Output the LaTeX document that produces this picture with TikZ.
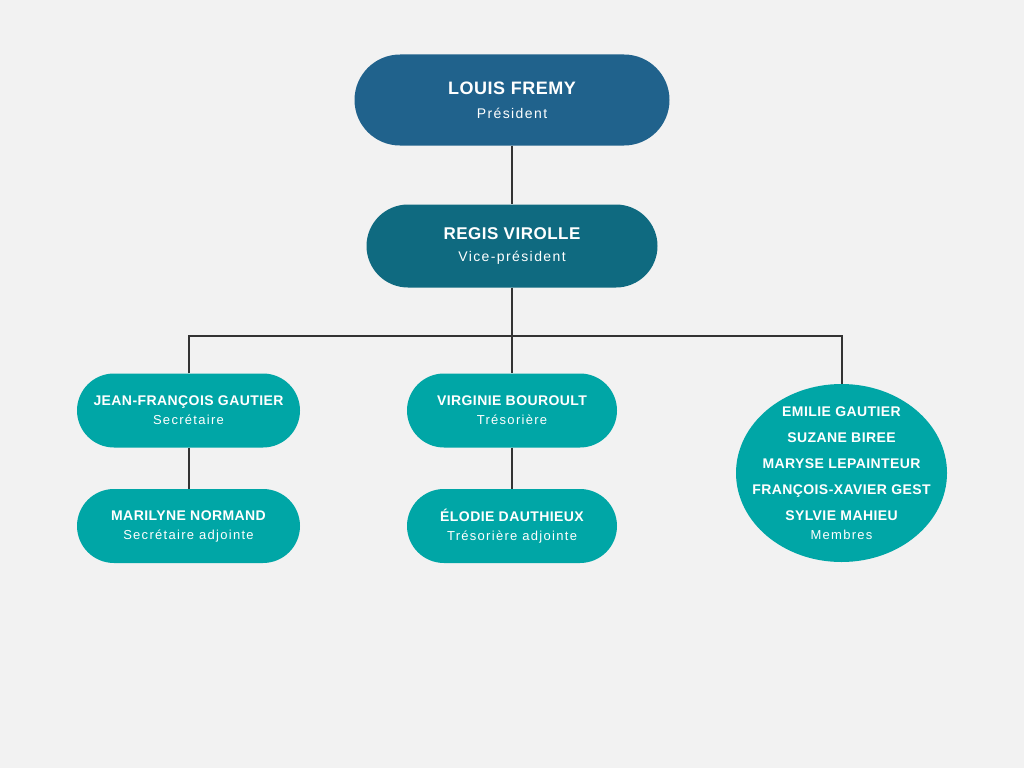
\documentclass[tikz,border=0pt]{standalone}
\usepackage{fontspec}
\setmainfont{Liberation Sans}
\newfontfamily\namefont{Liberation Sans}[LetterSpace=3]
\newfontfamily\rolefont{Liberation Sans}[LetterSpace=10]
\usepackage{tikz}
\usetikzlibrary{shapes.geometric}
\definecolor{pagegrey}{HTML}{F2F2F2}
\definecolor{presblue}{HTML}{20628C}
\definecolor{vpblue}{HTML}{0F6A80}
\definecolor{teamteal}{HTML}{00A6A6}
\definecolor{linkgrey}{HTML}{333333}

\begin{document}
\begin{tikzpicture}[x=1pt,y=-1pt,
  every node/.append style={text=white, align=center, inner sep=0pt},
  pill/.style={rectangle, rounded corners=#1, minimum height=2*#1},
  lead/.style={pill=45.5pt, fill=presblue, minimum width=315pt,
    font=\fontsize{18}{24}\selectfont},
  deputy/.style={pill=41.5pt, fill=vpblue, minimum width=291pt,
    font=\fontsize{17}{22}\selectfont},
  officer/.style={pill=37pt, fill=teamteal, font=\fontsize{14}{19}\selectfont},
  members/.style={ellipse, fill=teamteal, minimum width=211pt, minimum height=178pt},
  memberlist/.style={font=\fontsize{14}{26}\selectfont},
  link/.style={draw=linkgrey, line width=2pt}]
\fill[pagegrey] (0,0) rectangle (1024,768);
\node[lead] (pres) at (512,100)
  {\namefont\bfseries LOUIS FREMY\\
   \rolefont\fontsize{14}{24}\selectfont Président};
\node[deputy] (vp) at (512,246)
  {\namefont\bfseries REGIS VIROLLE\\
   \rolefont\fontsize{14}{22}\selectfont Vice-président};
\node[officer, minimum width=223pt] (secr) at (188.5,410.5)
  {\namefont\bfseries JEAN-FRANÇOIS GAUTIER\\
   \rolefont\fontsize{13}{19}\selectfont Secrétaire};
\node[officer, minimum width=210pt] (tres) at (512,410.5)
  {\namefont\bfseries VIRGINIE BOUROULT\\
   \rolefont\fontsize{13}{19}\selectfont Trésorière};
\node[officer, minimum width=223pt] (secradj) at (188.5,526)
  {\namefont\bfseries MARILYNE NORMAND\\
   \rolefont\fontsize{13}{19}\selectfont Secrétaire adjointe};
\node[officer, minimum width=210pt] (tresadj) at (512,526)
  {\namefont\bfseries ÉLODIE DAUTHIEUX\\
   \rolefont\fontsize{13}{19}\selectfont Trésorière adjointe};
\node[members, label={[memberlist, name=membtext]center:{%
   \namefont\bfseries EMILIE GAUTIER\\
   \namefont\bfseries SUZANE BIREE\\
   \namefont\bfseries MARYSE LEPAINTEUR\\
   \namefont\bfseries FRANÇOIS-XAVIER GEST\\
   \namefont\bfseries SYLVIE MAHIEU\\[-7pt]
   \rolefont\fontsize{13}{19}\selectfont Membres}}] (memb) at (841.5,473) {};
% connectors
\coordinate (bus) at (512,336);
\draw[link] (pres) -- (vp);
\draw[link] (vp) -- (bus);
\draw[link] (secr.north) |- (bus) -| (memb.north);
\draw[link] (bus) -- (tres);
\draw[link] (secr) -- (secradj);
\draw[link] (tres) -- (tresadj);
\end{tikzpicture}
\end{document}
